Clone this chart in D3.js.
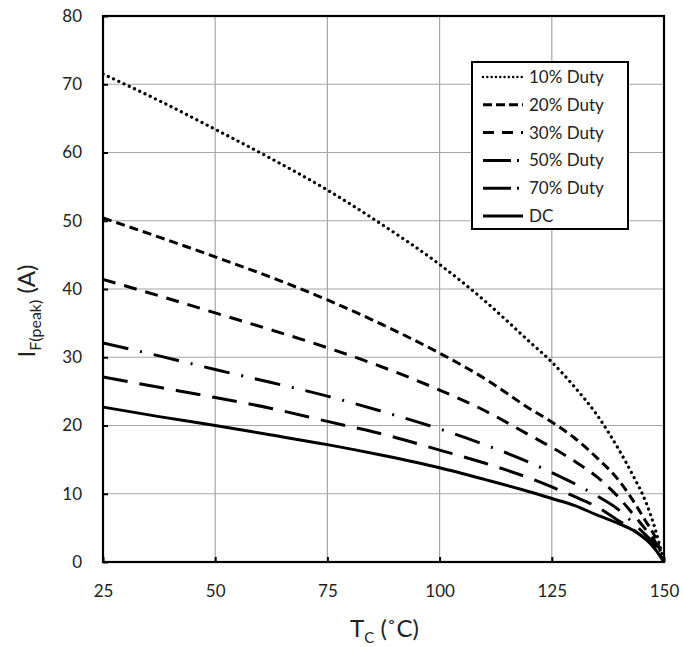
<!DOCTYPE html>
<html>
<head>
<meta charset="utf-8">
<script src="https://cdn.jsdelivr.net/npm/d3@7"></script>
<style>
body { margin: 0; background: #fff; }
text { font-family: Lato, "Open Sans", sans-serif; fill: #222; }
</style>
</head>
<body>
<div id="chart"></div>
<script>
// case temperature (deg C)
var tc = [25, 37.5, 50, 62.5, 75, 87.5, 100, 110, 120, 125, 130, 135, 140, 143, 146, 148, 150];

// peak forward current (A) per duty cycle
var duty10 = [71.5, 67.6, 63.4, 59.1, 54.5, 49.3, 43.6, 38.3, 32.3, 29.3, 25.7, 21.6, 16.4, 12.8, 8.7, 4.9, 0];
var duty20 = [50.4, 47.6, 44.7, 41.7, 38.4, 34.7, 30.6, 26.9, 22.5, 20.5, 18.2, 15.3, 11.9, 9.1, 5.9, 3.7, 0];
var duty30 = [41.4, 39.0, 36.5, 34.0, 31.4, 28.5, 25.2, 22.2, 18.6, 16.8, 14.8, 12.5, 9.4, 7.1, 4.7, 3.0, 0];
var duty50 = [32.1, 30.2, 28.2, 26.3, 24.3, 22.0, 19.5, 17.2, 14.6, 13.1, 11.5, 9.7, 7.6, 5.8, 3.9, 2.5, 0];
var duty70 = [27.1, 25.6, 24.1, 22.5, 20.6, 18.7, 16.4, 14.5, 12.3, 11.0, 9.6, 8.1, 6.0, 4.8, 3.3, 2.1, 0];
var dutyDC = [22.7, 21.3, 20.0, 18.6, 17.2, 15.6, 13.8, 12.1, 10.3, 9.3, 8.3, 6.9, 5.6, 4.7, 3.3, 1.9, 0];

var seriesNames = ["10% Duty", "20% Duty", "30% Duty", "50% Duty", "70% Duty", "DC"];
var seriesValues = [duty10, duty20, duty30, duty50, duty70, dutyDC];
var dashes = ["0.1,5.7", "9,5", "13,9", "26,12,2,12", "25,12", null];
var caps = ["round", "butt", "butt", "butt", "butt", "butt"];

var xTicks = [25, 50, 75, 100, 125, 150];
var yTicks = [0, 10, 20, 30, 40, 50, 60, 70, 80];

var margin = {
    top: 16,
    right: 19,
    bottom: 85,
    left: 103
};
var width = 683 - margin.left - margin.right;
var height = 647 - margin.top - margin.bottom;

var x = d3.scaleLinear().domain([25, 150]).range([0, width]);
var y = d3.scaleLinear().domain([0, 80]).range([height, 0]);

var svg = d3.select("#chart")
    .append("svg")
    .attr("width", 683)
    .attr("height", 647)
    .append("g")
    .attr("transform", "translate(" + margin.left + "," + margin.top + ")");

// grid lines
svg.append("g")
    .attr("class", "grid")
    .selectAll("line.v")
    .data(xTicks.slice(1, -1))
    .enter().append("line")
    .attr("x1", function (d) { return x(d); })
    .attr("x2", function (d) { return x(d); })
    .attr("y1", 0)
    .attr("y2", height)
    .attr("stroke", "#a6a6a6")
    .attr("stroke-width", 1.2);

svg.append("g")
    .attr("class", "grid")
    .selectAll("line.h")
    .data(yTicks.slice(1, -1))
    .enter().append("line")
    .attr("x1", 0)
    .attr("x2", width)
    .attr("y1", function (d) { return y(d); })
    .attr("y2", function (d) { return y(d); })
    .attr("stroke", "#a6a6a6")
    .attr("stroke-width", 1.2);

svg.append("clipPath")
    .attr("id", "plot-clip")
    .append("rect")
    .attr("width", width)
    .attr("height", height);

var line = d3.line()
    .x(function (d, i) { return x(tc[i]); })
    .y(function (d) { return y(d); })
    .curve(d3.curveMonotoneX);

svg.append("g")
    .attr("clip-path", "url(#plot-clip)")
    .selectAll("path")
    .data(seriesValues)
    .enter().append("path")
    .attr("d", function (d) { return line(d); })
    .attr("fill", "none")
    .attr("stroke", "#000")
    .attr("stroke-width", function (d, i) { return i === 0 ? 3.2 : 3; })
    .attr("stroke-linecap", function (d, i) { return caps[i]; })
    .attr("stroke-dasharray", function (d, i) { return dashes[i]; });

// axes with inward ticks
var xAxis = d3.axisBottom(x).tickValues(xTicks).tickSize(-5).tickPadding(23);
var yAxis = d3.axisLeft(y).tickValues(yTicks).tickSize(-5).tickPadding(21);

var gx = svg.append("g")
    .attr("class", "x axis")
    .attr("transform", "translate(0," + height + ")")
    .call(xAxis);
var gy = svg.append("g")
    .attr("class", "y axis")
    .call(yAxis);

[gx, gy].forEach(function (g) {
    g.select(".domain").remove();
    g.selectAll(".tick line").attr("stroke", "#000").attr("stroke-width", 2);
    g.selectAll(".tick text")
        .style("font-family", "Lato, 'Open Sans', sans-serif")
        .style("font-size", "17px")
        .attr("fill", "#222");
});

// plot frame
svg.append("rect")
    .attr("width", width)
    .attr("height", height)
    .attr("fill", "none")
    .attr("stroke", "#000")
    .attr("stroke-width", 2.2);

// axis titles
var xt = svg.append("text")
    .attr("x", width / 2 + 1)
    .attr("y", height + 75)
    .attr("text-anchor", "middle")
    .style("font-size", "24px");
xt.append("tspan").text("T");
xt.append("tspan").attr("dy", 6).style("font-size", "15px").text("C");
xt.append("tspan").attr("dy", -6).text(" (\u02DAC)");

var yt = svg.append("text")
    .attr("transform", "translate(" + (35 - margin.left) + "," + (height / 2 + 22) + ") rotate(-90)")
    .attr("text-anchor", "middle")
    .style("font-size", "24px");
yt.append("tspan").text("I");
yt.append("tspan").attr("dy", 6).style("font-size", "16px").text("F(peak)");
yt.append("tspan").attr("dy", -6).text(" (A)");

// legend
var legend = svg.append("g")
    .attr("transform", "translate(" + (472 - margin.left) + "," + (62 - margin.top) + ")");

legend.append("rect")
    .attr("width", 156)
    .attr("height", 167)
    .attr("fill", "#fff")
    .attr("stroke", "#000")
    .attr("stroke-width", 2);

var rows = legend.selectAll("g.row")
    .data(seriesNames)
    .enter().append("g")
    .attr("class", "row")
    .attr("transform", function (d, i) { return "translate(0," + (15 + i * 27.8) + ")"; });

rows.append("line")
    .attr("x1", 11)
    .attr("x2", 51)
    .attr("stroke", "#000")
    .attr("stroke-width", function (d, i) { return i === 0 ? 2.4 : 3; })
    .attr("stroke-linecap", function (d, i) { return caps[i]; })
    .attr("stroke-dasharray", function (d, i) {
        if (i === 0) return "0.1,4.2";
        if (i === 1) return "9,4";
        if (i === 2) return "11,8";
        if (i === 3 || i === 4) return "28,6,2,6";
        return null;
    });

rows.append("text")
    .attr("x", 57)
    .attr("dy", "0.35em")
    .style("font-size", "17px")
    .text(function (d) { return d; });
</script>
</body>
</html>
